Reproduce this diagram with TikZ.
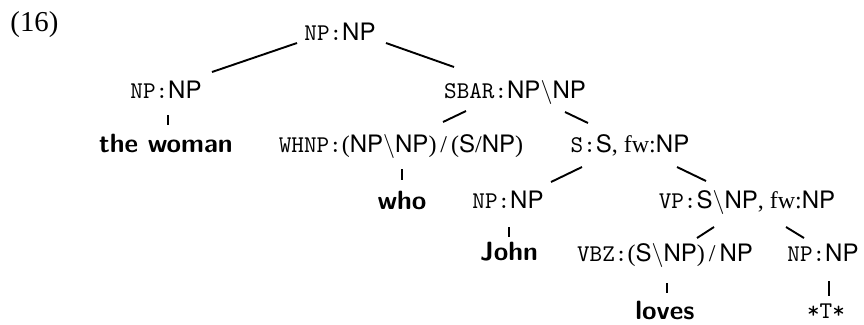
\documentclass[tikz,border=0pt]{standalone}
\usepackage{fontspec}
\setmainfont{Liberation Serif}
\newfontfamily\catfont{TeX Gyre Heros}
\newcommand{\ct}[1]{{\catfont #1}}
\newcommand{\lb}[1]{{\ttfamily #1}}
\newcommand{\wrdb}[1]{{\fontsize{11pt}{13pt}\selectfont\sffamily\bfseries #1}}
\newcommand{\bsl}{$\backslash$}
\tikzset{
  tn/.style={anchor=base, inner sep=0pt, font=\fontsize{10pt}{12pt}\selectfont},
  br/.style={line width=0.8pt},
}
\newcommand{\tedge}[6]{\draw[br] ([shift={(#2)}]#1.base) -- ([shift={(#5)}]#4.base);}
\begin{document}
\begin{tikzpicture}[x=0.41667pt, y=-0.41667pt]
\useasboundingbox (0,0) rectangle (864,324);
\node[anchor=base west, inner sep=0pt, font=\fontsize{12pt}{14pt}\selectfont] (ex) at (10,31) {(16)};
\node[tn] (root) at (340,40) {\lb{NP:}\ct{NP}};
\node[tn] (np1) at (166,98) {\lb{NP:}\ct{NP}};
\node[tn] (sbar) at (515,98) {\lb{SBAR:}\ct{NP}\bsl\ct{NP}};
\node[tn] (w1) at (166,152) {\wrdb{the woman}};
\node[tn] (whnp) at (401,152) {\lb{WHNP:}(\ct{NP}\bsl\ct{NP})\,/\,(\ct{S}/\ct{NP})};
\node[tn] (s) at (630,152) {\lb{S:}\ct{S}, fw:\ct{NP}};
\node[tn] (who) at (402,209) {\wrdb{who}};
\node[tn] (np2) at (508,208) {\lb{NP:}\ct{NP}};
\node[tn] (vp) at (747,208) {\lb{VP:}\ct{S}\bsl\ct{NP}, fw:\ct{NP}};
\node[tn] (john) at (509,260) {\wrdb{John}};
\node[tn] (vbz) at (665,261) {\lb{VBZ:}(\ct{S}\bsl\ct{NP})\,/\,\ct{NP}};
\node[tn] (np3) at (823,261) {\lb{NP:}\ct{NP}};
\node[tn] (loves) at (665,319) {\wrdb{loves}};
\node[tn] (tr) at (826,318) {\lb{*T*}};
\tedge{root}{-43,3}{}{np1}{46,-26}{}
\tedge{root}{46,3}{}{sbar}{-61,-31}{}
\tedge{np1}{2,17}{}{w1}{2,-27}{}
\tedge{sbar}{-49,13}{}{whnp}{42,-30}{}
\tedge{sbar}{50,14}{}{s}{-42,-29}{}
\tedge{whnp}{1,17}{}{who}{0,-29}{}
\tedge{s}{-48,15}{}{np2}{43,-26}{}
\tedge{s}{47,15}{}{vp}{-41,-27}{}
\tedge{np2}{1,19}{}{john}{0,-23}{}
\tedge{vp}{-33,19}{}{vbz}{32,-23}{}
\tedge{vp}{39,19}{}{np3}{-19,-23}{}
\tedge{vbz}{2,22}{}{loves}{2,-26}{}
\tedge{np3}{6,20}{}{tr}{3,-22}{}
\end{tikzpicture}
\end{document}
